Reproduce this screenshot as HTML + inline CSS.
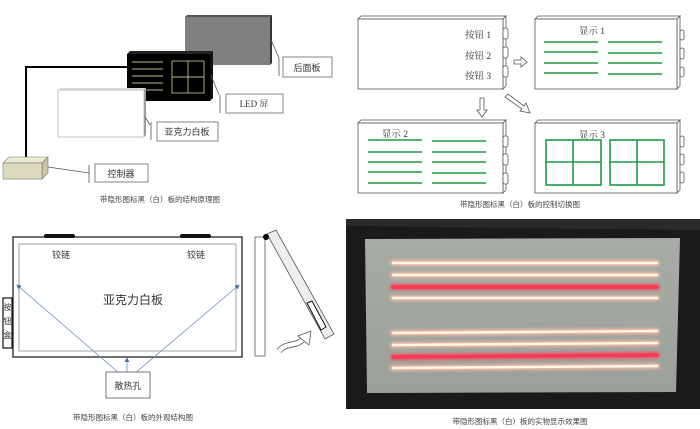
<!DOCTYPE html>
<html><head><meta charset="utf-8"><style>
html,body{margin:0;padding:0;background:#fff;}
svg{display:block;font-family:"Liberation Sans","Noto Sans CJK SC",sans-serif;}
</style></head><body>
<svg width="700" height="429" viewBox="0 0 700 429" xmlns="http://www.w3.org/2000/svg">
<defs>
<filter id="blur" x="-5%" y="-80%" width="110%" height="260%"><feGaussianBlur stdDeviation="1.3"/></filter>
<linearGradient id="bg" x1="0" y1="0" x2="0" y2="1"><stop offset="0" stop-color="#a8aca6"/><stop offset="1" stop-color="#9ca09a"/></linearGradient>
<marker id="ah" markerWidth="6" markerHeight="6" refX="5" refY="3" orient="auto"><path d="M0,0 L6,3 L0,6 z" fill="#4a6fa5"/></marker>
</defs>

<!-- ===== Top-left: structure ===== -->
<polygon points="185,17 187,15 272,15 270,17" fill="#555"/>
<polygon points="270,17 272,15 272,63 270,65" fill="#333"/>
<rect x="185" y="17" width="85" height="48" fill="#808080"/>
<line x1="271" y1="40" x2="279" y2="58" stroke="#555" stroke-width="0.8"/>
<line x1="279" y1="58" x2="279" y2="76" stroke="#555" stroke-width="0.8"/>
<rect x="283" y="57" width="49" height="20" fill="#fff" stroke="#666" stroke-width="0.8"/>
<text x="307" y="71" font-size="9" text-anchor="middle" fill="#333">后面板</text>
<polygon points="127,54 130,51 213,51 210,54" fill="#222"/>
<polygon points="210,54 213,51 213,98 210,101" fill="#111"/>
<rect x="127" y="54" width="83" height="47" fill="#000"/>
<g stroke="#b8b890" stroke-width="0.9">
<line x1="132" y1="62" x2="163" y2="62"/><line x1="132" y1="69" x2="163" y2="69"/>
<line x1="132" y1="76" x2="163" y2="76"/><line x1="132" y1="83" x2="163" y2="83"/>
<line x1="132" y1="90" x2="163" y2="90"/>
<rect x="172" y="61" width="32" height="32" fill="none"/>
<line x1="188" y1="61" x2="188" y2="93"/><line x1="172" y1="77" x2="204" y2="77"/>
</g>
<line x1="211" y1="75" x2="219" y2="95" stroke="#555" stroke-width="0.8"/>
<line x1="220" y1="95" x2="220" y2="113" stroke="#555" stroke-width="0.8"/>
<rect x="226" y="94" width="57" height="19" fill="#fff" stroke="#666" stroke-width="0.8"/>
<text x="254" y="107" font-size="9" text-anchor="middle" fill="#333" font-family="Liberation Serif,'Noto Serif CJK SC',serif">LED 屏</text>
<polygon points="58,90 60,88 146,88 144,90" fill="#ddd"/>
<polygon points="144,90 146,88 146,135 144,137" fill="#999"/>
<rect x="58" y="90" width="86" height="47" fill="#fff" stroke="#aaa" stroke-width="0.7"/>
<line x1="145" y1="117" x2="150" y2="125" stroke="#555" stroke-width="0.8"/>
<line x1="151" y1="122" x2="151" y2="140" stroke="#555" stroke-width="0.8"/>
<rect x="157" y="122" width="61" height="19" fill="#fff" stroke="#666" stroke-width="0.8"/>
<text x="187" y="135" font-size="9" text-anchor="middle" fill="#333">亚克力白板</text>
<polyline points="26,158 26,67 127,67" fill="none" stroke="#000" stroke-width="2"/>
<polygon points="3,163 9,157 48,157 42,163" fill="#ecead4" stroke="#777" stroke-width="0.6"/>
<polygon points="42,163 48,157 48,173 42,179" fill="#c8c4a4" stroke="#777" stroke-width="0.6"/>
<rect x="3" y="163" width="39" height="16" fill="#ddd9be" stroke="#777" stroke-width="0.6"/>
<line x1="48" y1="167" x2="89" y2="173" stroke="#555" stroke-width="0.8"/>
<line x1="89" y1="165" x2="89" y2="183" stroke="#555" stroke-width="0.8"/>
<rect x="95" y="164" width="53" height="18" fill="#fff" stroke="#666" stroke-width="0.8"/>
<text x="121" y="177" font-size="9" text-anchor="middle" fill="#333">控制器</text>
<text x="160" y="202" font-size="7.5" text-anchor="middle" fill="#444">带隐形图标黑（白）板的结构原理图</text>

<!-- ===== Top-right: switching ===== -->
<g fill="#fff" stroke="#555" stroke-width="0.8">
<polygon points="358,19 361,16 506,16 503,19"/><polygon points="503,19 506,16 506,86 503,89"/><rect x="358" y="19" width="145" height="70"/>
<polygon points="535,19 538,16 680,16 677,19"/><polygon points="677,19 680,16 680,86 677,89"/><rect x="535" y="19" width="142" height="70"/>
<polygon points="358,123 361,120 506,120 503,123"/><polygon points="503,123 506,120 506,190 503,193"/><rect x="358" y="123" width="145" height="70"/>
<polygon points="535,123 538,120 680,120 677,123"/><polygon points="677,123 680,120 680,190 677,193"/><rect x="535" y="123" width="142" height="70"/>
<rect x="503" y="28" width="5" height="11" rx="2"/><rect x="503" y="47" width="5" height="11" rx="2"/><rect x="503" y="66" width="5" height="11" rx="2"/>
<rect x="680" y="30" width="4" height="10" rx="2"/><rect x="680" y="48" width="4" height="11" rx="2"/><rect x="680" y="67" width="4" height="10" rx="2"/>
<rect x="503" y="136" width="5" height="11" rx="2"/><rect x="503" y="154" width="5" height="11" rx="2"/><rect x="503" y="173" width="5" height="11" rx="2"/>
<rect x="680" y="136" width="4" height="11" rx="2"/><rect x="680" y="154" width="4" height="11" rx="2"/><rect x="680" y="172" width="4" height="11" rx="2"/>
<polygon points="514,60 521,60 521,57 527,62 521,67 521,64 514,64"/>
<polygon points="480,98 484,98 484,110 487,110 482,117 477,110 480,110"/>
<polygon points="505,97 508,94 524,106 526,103 530,113 520,111 522,109"/>
</g>
<g font-size="9.5" fill="#333" font-family="'Liberation Serif','Noto Serif CJK SC',serif">
<text x="465" y="38">按钮 1</text><text x="465" y="59">按钮 2</text><text x="465" y="79">按钮 3</text>
<text x="592" y="34" text-anchor="middle">显示 1</text>
<text x="395" y="137" text-anchor="middle">显示 2</text>
<text x="592" y="138" text-anchor="middle">显示 3</text>
</g>
<g stroke="#1e9a45" stroke-width="1.6">
<line x1="544" y1="42" x2="598" y2="42"/><line x1="608" y1="42" x2="662" y2="42"/>
<line x1="544" y1="52" x2="598" y2="52"/><line x1="608" y1="53" x2="662" y2="53"/>
<line x1="544" y1="63" x2="598" y2="63"/><line x1="608" y1="63" x2="662" y2="63"/>
<line x1="544" y1="73" x2="598" y2="73"/><line x1="608" y1="74" x2="662" y2="74"/>
<line x1="368" y1="140" x2="422" y2="140"/><line x1="432" y1="141" x2="486" y2="141"/>
<line x1="368" y1="152" x2="422" y2="152"/><line x1="432" y1="152" x2="486" y2="152"/>
<line x1="368" y1="162" x2="422" y2="162"/><line x1="432" y1="162" x2="486" y2="162"/>
<line x1="368" y1="172" x2="422" y2="172"/><line x1="432" y1="173" x2="486" y2="173"/>
<line x1="368" y1="183" x2="422" y2="183"/><line x1="432" y1="183" x2="486" y2="183"/>
<g fill="none">
<rect x="546" y="140" width="55" height="45"/><line x1="573" y1="140" x2="573" y2="185"/><line x1="546" y1="162" x2="601" y2="162"/>
<rect x="610" y="140" width="54" height="45"/><line x1="637" y1="140" x2="637" y2="185"/><line x1="610" y1="162" x2="664" y2="162"/>
</g>
</g>
<text x="520" y="207" font-size="7.5" text-anchor="middle" fill="#444">带隐形图标黑（白）板的控制切换图</text>

<!-- ===== Bottom-left: outline ===== -->
<rect x="13" y="237" width="229" height="120" fill="#fff" stroke="#222" stroke-width="1.3"/>
<rect x="19" y="244" width="217" height="107" fill="none" stroke="#999" stroke-width="0.9"/>
<rect x="44" y="234" width="31" height="4" rx="2" fill="#111"/>
<rect x="180" y="234" width="31" height="4" rx="2" fill="#111"/>
<text x="61" y="258" font-size="9" text-anchor="middle" fill="#333">铰链</text>
<text x="196" y="258" font-size="9" text-anchor="middle" fill="#333">铰链</text>
<text x="133" y="304" font-size="12" text-anchor="middle" fill="#333">亚克力白板</text>
<rect x="3" y="298" width="9" height="50" fill="#fff" stroke="#111" stroke-width="1.2"/>
<text x="7.5" y="310" font-size="8" text-anchor="middle" fill="#333">按</text>
<text x="7.5" y="324" font-size="8" text-anchor="middle" fill="#333">钮</text>
<text x="7.5" y="338" font-size="8" text-anchor="middle" fill="#333">盒</text>
<g stroke="#6a8cbb" stroke-width="0.8">
<line x1="127" y1="380" x2="17" y2="285" marker-end="url(#ah)"/>
<line x1="127" y1="380" x2="239" y2="285" marker-end="url(#ah)"/>
<line x1="127" y1="380" x2="127" y2="358" marker-end="url(#ah)"/>
</g>
<rect x="106" y="372" width="44" height="26" fill="#fff" stroke="#555" stroke-width="0.8"/>
<text x="128" y="389" font-size="9" text-anchor="middle" fill="#333">散热孔</text>
<text x="133" y="420" font-size="7.5" text-anchor="middle" fill="#444">带隐形图标黑（白）板的外观结构图</text>
<rect x="255" y="237" width="10" height="119" fill="#fff" stroke="#555" stroke-width="0.8"/>
<polygon points="267,234 276,230 334,334 325,339" fill="#eee" stroke="#555" stroke-width="0.8"/>
<polygon points="307,303 312,301 326,327 321,330" fill="#fff" stroke="#111" stroke-width="1"/>
<circle cx="266" cy="237" r="3" fill="#000"/>
<path d="M279,351 C286,342 298,347 304,338" fill="none" stroke="#555" stroke-width="6" stroke-linecap="butt"/>
<path d="M279,351 C286,342 298,347 304,338" fill="none" stroke="#fff" stroke-width="4.4" stroke-linecap="butt"/>
<polygon points="298,336 311,331 309,345" fill="#fff" stroke="#555" stroke-width="0.8"/>

<!-- ===== Bottom-right: photo ===== -->
<rect x="346" y="219" width="354" height="190" fill="#1a1a1a"/>
<polygon points="346,219 700,219 700,230 346,226" fill="#2a2a2a"/>
<polygon points="365,239 680,238 676,392 367,393" fill="url(#bg)"/>
<g stroke-linecap="round">
<g stroke="#f0b8a0" stroke-width="6" filter="url(#blur)">
<line x1="393" y1="263" x2="657" y2="263"/><line x1="393" y1="275" x2="657" y2="275"/>
<line x1="393" y1="298" x2="657" y2="298"/><line x1="393" y1="333" x2="657" y2="331"/>
<line x1="393" y1="345" x2="657" y2="343"/><line x1="393" y1="368" x2="657" y2="366"/>
</g>
<g stroke="#fff6e6" stroke-width="2.4">
<line x1="393" y1="263" x2="657" y2="263"/><line x1="393" y1="275" x2="657" y2="275"/>
<line x1="393" y1="298" x2="657" y2="298"/><line x1="393" y1="333" x2="657" y2="331"/>
<line x1="393" y1="345" x2="657" y2="343"/><line x1="393" y1="368" x2="657" y2="366"/>
</g>
<g stroke="#ff4a5e" stroke-width="6" filter="url(#blur)">
<line x1="393" y1="287" x2="657" y2="287"/><line x1="393" y1="357" x2="657" y2="355"/>
</g>
<g stroke="#f03c55" stroke-width="3.5">
<line x1="393" y1="287" x2="657" y2="287"/><line x1="393" y1="357" x2="657" y2="355"/>
</g>
</g>
<text x="520" y="424" font-size="7.5" text-anchor="middle" fill="#444">带隐形图标黑（白）板的实物显示效果图</text>
</svg>
</body></html>
